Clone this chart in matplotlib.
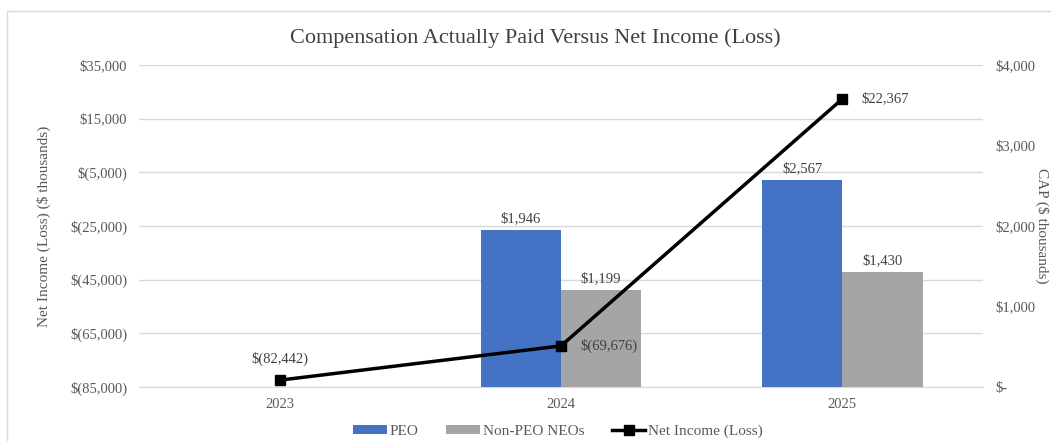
import matplotlib.pyplot as plt
import numpy as np
from matplotlib.patches import Rectangle

# Data
years = ["2023", "2024", "2025"]
peo_cap = [0, 1946, 2567]
non_peo_cap = [0, 1199, 1430]
net_income = [-82442, -69676, 22367]

peo_labels = ["", "$1,946", "$2,567"]
non_peo_labels = ["", "$1,199", "$1,430"]
ni_labels = ["$(82,442)", "$(69,676)", "$22,367"]

left_ticks = [-85000, -65000, -45000, -25000, -5000, 15000, 35000]
left_ticklabels = ["$(85,000)", "$(65,000)", "$(45,000)", "$(25,000)",
                   "$(5,000)", "$15,000", "$35,000"]
right_ticks = [0, 1000, 2000, 3000, 4000]
right_ticklabels = ["$-", "$1,000", "$2,000", "$3,000", "$4,000"]

plt.rcParams["font.family"] = ["Liberation Serif", "DejaVu Serif"]
txt = "#595959"

fig = plt.figure(figsize=(10.51, 4.41), dpi=100)
ax = fig.add_axes([0.1323, 0.1224, 0.8030, 0.7302])
ax2 = ax.twinx()

x = np.arange(len(years))
w = 0.285

# bars on the right axis
ax2.bar(x - w / 2, peo_cap, w, color="#4472C4", label="PEO", zorder=2)
ax2.bar(x + w / 2, non_peo_cap, w, color="#A5A5A5", label="Non-PEO NEOs", zorder=2)
for i in x:
    if peo_cap[i] > 0:
        ax2.text(i - w / 2, peo_cap[i] + 60, peo_labels[i], ha="center", va="bottom",
                 fontsize=10.5, color="#404040")
    if non_peo_cap[i] > 0:
        ax2.text(i + w / 2, non_peo_cap[i] + 60, non_peo_labels[i], ha="center", va="bottom",
                 fontsize=10.5, color="#404040")

# line on the left scale, drawn on top of the bars
ax3 = ax2.twinx()
ax3.set_ylim(-85000, 35000)
ax3.set_yticks([])
ax3.plot(x, net_income, color="black", lw=2.5, marker="s", ms=7,
         label="Net Income (Loss)", zorder=3)
ax3.annotate(ni_labels[0], (x[0], net_income[0]), xytext=(0, 10), textcoords="offset points",
             ha="center", va="bottom", fontsize=10.5, color="#404040")
ax3.annotate(ni_labels[1], (x[1], net_income[1]), xytext=(14, 0), textcoords="offset points",
             ha="left", va="center", fontsize=10.5, color="#404040")
ax3.annotate(ni_labels[2], (x[2], net_income[2]), xytext=(14, 0), textcoords="offset points",
             ha="left", va="center", fontsize=10.5, color="#404040")

# right axis (twinx on ax2 moved its ticks left, put them back)
ax2.yaxis.tick_right()
ax2.yaxis.set_label_position("right")
ax2.set_ylim(0, 4000)
ax2.set_yticks(right_ticks)
ax2.set_yticklabels(right_ticklabels, fontsize=10.5, color=txt)
ax2.tick_params(axis="y", length=0, pad=9)
ax2.set_ylabel("CAP ($ thousands)", rotation=270, fontsize=11, color=txt, va="center")
ax2.yaxis.set_label_coords(1.070, 0.5)

ax.set_ylim(-85000, 35000)
ax.set_yticks(left_ticks)
ax.set_yticklabels(left_ticklabels, fontsize=10.5, color=txt)
ax.tick_params(axis="y", length=0, pad=8.5)
ax.set_ylabel("Net Income (Loss) ($ thousands)", fontsize=11, color=txt, labelpad=14)
ax.grid(axis="y", color="#d9d9d9", lw=1)
ax.set_axisbelow(True)
ax.set_xlim(-0.5, 2.5)
ax.set_xticks(x)
ax.set_xticklabels(years, fontsize=10.5, color=txt)
ax.tick_params(axis="x", length=0, pad=8)

for a in (ax, ax2, ax3):
    for s in a.spines.values():
        s.set_visible(False)
ax.spines["bottom"].set_visible(True)
ax.spines["bottom"].set_color("#d9d9d9")

fig.text(0.509, 1 - 38 / 441, "Compensation Actually Paid Versus Net Income (Loss)",
         ha="center", va="center", fontsize=16, color="#404040")

h1, l1 = ax2.get_legend_handles_labels()
h2, l2 = ax3.get_legend_handles_labels()
fig.legend(h1 + h2, l1 + l2, loc="center", bbox_to_anchor=(0.531, 1 - 431 / 441), ncol=3,
           frameon=False, fontsize=11, labelcolor=txt, handlelength=2.2,
           handleheight=0.5, columnspacing=1.8, handletextpad=0.2)

fig.patches.append(Rectangle((7 / 1051, -0.1), 1.2, 1 - 11 / 441 + 0.1,
                             transform=fig.transFigure, fill=False,
                             edgecolor="#d9d9d9", lw=1))

fig.savefig("out.png", dpi=100)
